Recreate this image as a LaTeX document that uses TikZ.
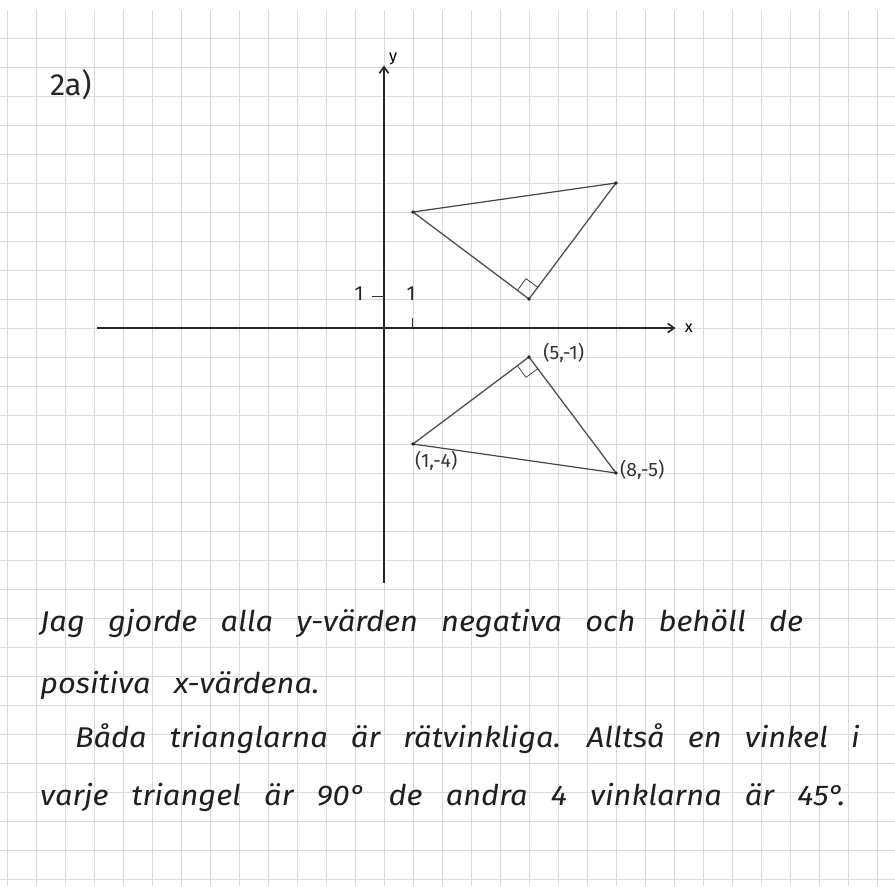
\documentclass[tikz,border=0pt]{standalone}
\usepackage{graphicx}
\usepackage{fontspec}
\setmainfont{Fira Sans}
\usepackage{tikz}
\usetikzlibrary{positioning,arrows.meta,calc}

\newcommand{\handtext}[1]{\scalebox{1.08}[1]{#1}}

\begin{document}
\begin{tikzpicture}[
  paper/.style={draw=gray!30, line width=0.6pt},
  axis/.style={line width=1.6pt, black!85, -{Straight Barb[length=2.2mm, width=3.2mm]}},
  tri/.style={line width=1.2pt, black!72, line join=round},
  rightang/.style={line width=0.8pt, black!70},
  vertex/.style={circle, fill=black!85, inner sep=0pt, minimum size=3.5pt},
  ticklab/.style={font=\fontsize{20}{22}\selectfont, text=black!85, inner sep=1pt},
  coordlabel/.style={font=\fontsize{19}{21}\selectfont, text=black!80, inner sep=1pt},
  hand/.style={font=\fontsize{28}{30}\selectfont\itshape, execute at begin node={\spaceskip=21pt\relax}, text=black!88, anchor=base west, inner sep=0pt},
]
\useasboundingbox (-13.24,-19.24) rectangle (17.62,11.31);

% squared paper
\clip (-13.24,-19.24) rectangle (17.62,11.31);
\fill[white] (-13.24,-19.24) rectangle (17.62,11.31);
\draw[paper] (-13.24,-19.24) grid[step=1] (17.62,10.97);

% axes
\coordinate (xl) at (-9.9,0);
\coordinate (xr) at (10.05,0);
\coordinate (yb) at (0,-8.8);
\coordinate (yt) at (0,9.05);
\draw[axis] (xl) -- (xr);
\draw[axis] (yb) -- (yt);
\node[font=\fontsize{16}{18}\selectfont, right=0.2cm of xr] (xlab) {x};
\node[font=\fontsize{16}{18}\selectfont, above right=-0.1cm and 0.05cm of yt] (ylab) {y};

% unit marks
\coordinate (ty) at (0,1.1);
\coordinate (tx) at (1,0);
\draw[line width=1pt, black!80] (ty) -- ++(-0.4,0);
\draw[line width=1pt, black!80] (tx) -- ++(0,0.35);
\node[ticklab] (one y) at (-0.86,1.2) {1};
\node[ticklab] (one x) at (0.93,1.2) {1};

% title
\node[font=\fontsize{30}{32}\selectfont, text=black!85] (task) at (-10.8,8.4) {2a)};

% original triangle
\coordinate (A1) at (1,4);
\coordinate (B1) at (5,1);
\coordinate (C1) at (8,5);
\draw[tri] (A1) -- (B1) -- (C1) -- cycle;
\draw[rightang] ($(B1)!0.1!(A1)$) -- ($(B1)!0.1!(A1) + (B1)!0.1!(C1) - (B1)$) -- ($(B1)!0.1!(C1)$);
\foreach \p in {A1,B1,C1} \node[vertex] at (\p) {};

% reflected triangle
\coordinate (A2) at (1,-4);
\coordinate (B2) at (5,-1);
\coordinate (C2) at (8,-5);
\draw[tri] (A2) -- (B2) -- (C2) -- cycle;
\draw[rightang] ($(B2)!0.1!(A2)$) -- ($(B2)!0.1!(A2) + (B2)!0.1!(C2) - (B2)$) -- ($(B2)!0.1!(C2)$);
\foreach \p in {A2,B2,C2} \node[vertex] at (\p) {};

\node[coordlabel, right=0.45cm of B2, yshift=0.15cm] (labB) {(5,-1)};
\node[coordlabel, below=0.2cm of A2, xshift=0.8cm] (labA) {(1,-4)};
\node[coordlabel, right=0.1cm of C2, yshift=0.1cm] (labC) {(8,-5)};

% explanation
\node[hand] (l1) at (-11.86,-10.48) {\handtext{Jag gjorde alla y-värden negativa och behöll de}};
\node[hand] (l2) at (-11.86,-12.59) {\handtext{positiva x-värdena.}};
\node[hand] (l3) at (-10.66,-14.48) {\handtext{Båda trianglarna är rätvinkliga. Alltså en vinkel i}};
\node[hand] (l4) at (-11.86,-16.48) {\handtext{varje triangel är 90° de andra 4 vinklarna är 45°.}};
\end{tikzpicture}
\end{document}
